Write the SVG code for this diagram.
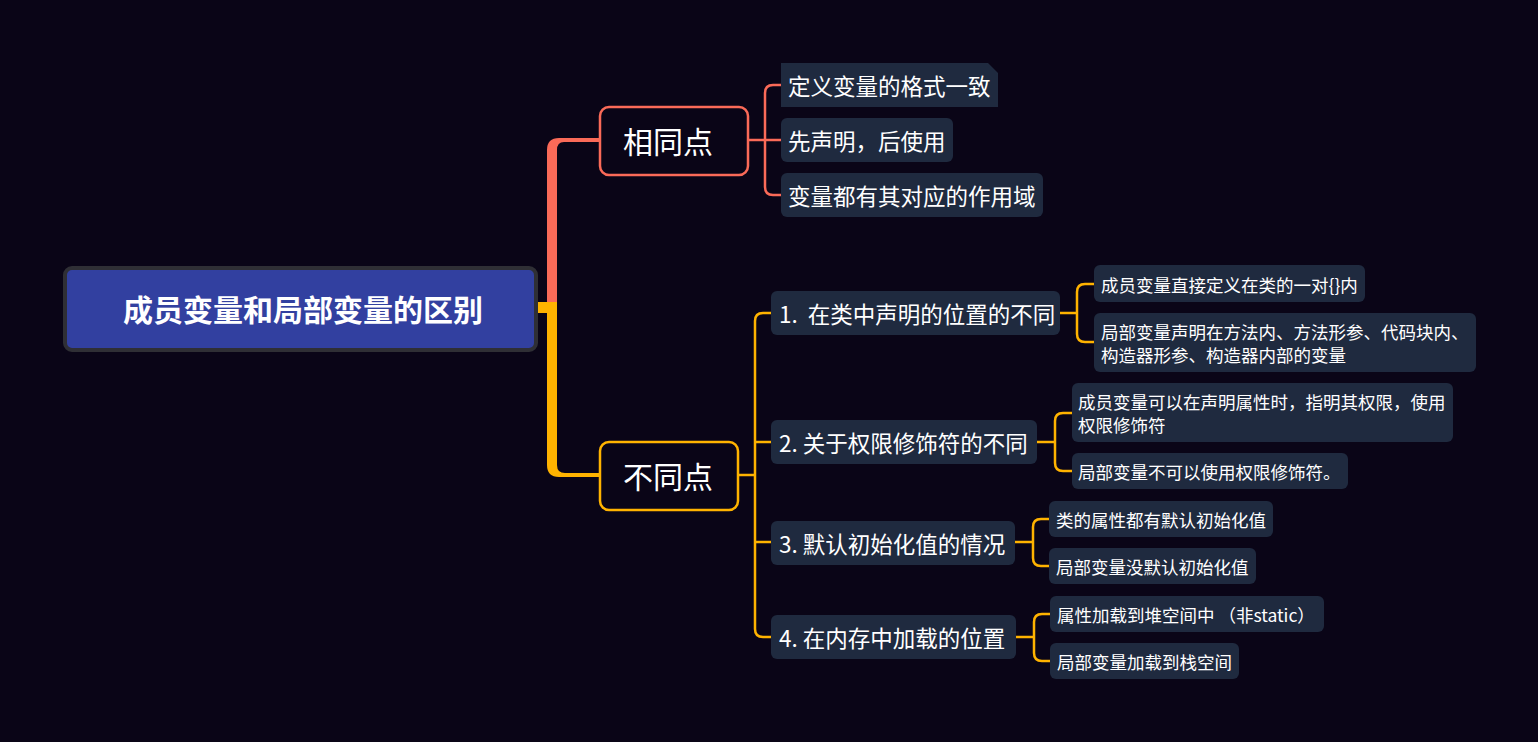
<svg xmlns="http://www.w3.org/2000/svg" width="1538" height="742" viewBox="0 0 1538 742">
<style>
text{font-family:"Noto Sans CJK SC","Microsoft YaHei",sans-serif;fill:#ffffff;dominant-baseline:central}
.sub{fill:#1f2a3f}
.t1{font-size:22.5px}
.t2{font-size:17.5px}
.thinr{fill:none;stroke:#fa6a58;stroke-width:2.5}
.thino{fill:none;stroke:#ffb300;stroke-width:2.5}
</style>
<rect x="0" y="0" width="1538" height="742" fill="#0a0517"/>
<g id="connectors">
<path d="M547,302 L547,150 Q547,138 559,138 L600,138 L600,142 L564,142 Q557,142 557,150 L557,302 Z" fill="#fa6a58"/>
<path d="M537,302 L557,302 L557,465 Q557,473 565,473 L600,473 L600,477 L559,477 Q547,477 547,465 L547,313 L537,313 Z" fill="#ffb300"/>
<path class="thinr" d="M749,140 L781,140 M781,85 L773,85 Q765,85 765,93 L765,187 Q765,195 773,195 L781,195"/>
<path class="thino" d="M739,475 L755,475 M771,313 L763,313 Q755,313 755,321 L755,629 Q755,637 763,637 L771,637 M755,442 L771,442 M755,542 L771,542"/>
<path class="thino" d="M1060,313 L1077,313 M1094,284 L1085,284 Q1077,284 1077,292 L1077,334 Q1077,342 1085,342 L1094,342"/>
<path class="thino" d="M1037,442 L1055,442 M1072,413 L1063,413 Q1055,413 1055,421 L1055,463 Q1055,471 1063,471 L1072,471"/>
<path class="thino" d="M1015,542 L1033,542 M1049,519 L1041,519 Q1033,519 1033,527 L1033,558 Q1033,566 1041,566 L1049,566"/>
<path class="thino" d="M1016,637 L1034,637 M1050,614 L1042,614 Q1034,614 1034,622 L1034,653 Q1034,661 1042,661 L1050,661"/>
</g>
<g id="root">
<rect x="65" y="268" width="471" height="82" rx="7" fill="#3240a0" stroke="#2f2f35" stroke-width="4"/>
<text x="303" y="308" font-size="30" font-weight="bold" text-anchor="middle">成员变量和局部变量的区别</text>
</g>
<g id="same">
<rect x="600" y="107" width="148" height="68" rx="9" fill="#0a0517" stroke="#fa6a58" stroke-width="2.5"/>
<text x="668" y="140" font-size="30" text-anchor="middle">相同点</text>
</g>
<g id="diff">
<rect x="600" y="442" width="138" height="68" rx="9" fill="#0a0517" stroke="#ffb300" stroke-width="2.5"/>
<text x="668" y="475" font-size="30" text-anchor="middle">不同点</text>
</g>
<g id="same1">
<polygon class="sub" points="781,63 988,63 998,73 998,107 781,107"/>
<text class="t1" x="788" y="85">定义变量的格式一致</text>
</g>
<g id="same2">
<rect class="sub" x="781" y="118" width="172" height="44" rx="6"/>
<text class="t1" x="788" y="140">先声明，后使用</text>
</g>
<g id="same3">
<rect class="sub" x="781" y="173" width="262" height="44" rx="6"/>
<text class="t1" x="788" y="195">变量都有其对应的作用域</text>
</g>
<g id="diff1">
<rect class="sub" x="771" y="291" width="289" height="44" rx="6"/>
<text class="t1" x="779" y="313" xml:space="preserve">1.  在类中声明的位置的不同</text>
</g>
<g id="diff2">
<rect class="sub" x="771" y="420" width="266" height="44" rx="6"/>
<text class="t1" x="779" y="442">2. 关于权限修饰符的不同</text>
</g>
<g id="diff3">
<rect class="sub" x="771" y="521" width="244" height="44" rx="6"/>
<text class="t1" x="779" y="543">3. 默认初始化值的情况</text>
</g>
<g id="diff4">
<rect class="sub" x="771" y="615" width="245" height="44" rx="6"/>
<text class="t1" x="779" y="637">4. 在内存中加载的位置</text>
</g>
<g id="g1a">
<rect class="sub" x="1094" y="265" width="271" height="37" rx="6"/>
<text class="t2" x="1101" y="284">成员变量直接定义在类的一对{}内</text>
</g>
<g id="g1b">
<rect class="sub" x="1094" y="313" width="382" height="59" rx="6"/>
<text class="t2" x="1101" y="331">局部变量声明在方法内、方法形参、代码块内、</text>
<text class="t2" x="1101" y="354">构造器形参、构造器内部的变量</text>
</g>
<g id="g2a">
<rect class="sub" x="1072" y="383" width="381" height="59" rx="6"/>
<text class="t2" x="1078" y="401">成员变量可以在声明属性时，指明其权限，使用</text>
<text class="t2" x="1078" y="424">权限修饰符</text>
</g>
<g id="g2b">
<rect class="sub" x="1072" y="453" width="276" height="36" rx="6"/>
<text class="t2" x="1078" y="471">局部变量不可以使用权限修饰符。</text>
</g>
<g id="g3a">
<rect class="sub" x="1049" y="501" width="224" height="36" rx="6"/>
<text class="t2" x="1056" y="519">类的属性都有默认初始化值</text>
</g>
<g id="g3b">
<rect class="sub" x="1049" y="548" width="207" height="36" rx="6"/>
<text class="t2" x="1056" y="566">局部变量没默认初始化值</text>
</g>
<g id="g4a">
<rect class="sub" x="1050" y="596" width="274" height="36" rx="6"/>
<text class="t2" x="1057" y="614" xml:space="preserve">属性加载到堆空间中 （非static）</text>
</g>
<g id="g4b">
<rect class="sub" x="1050" y="643" width="189" height="36" rx="6"/>
<text class="t2" x="1057" y="661">局部变量加载到栈空间</text>
</g>
</svg>
